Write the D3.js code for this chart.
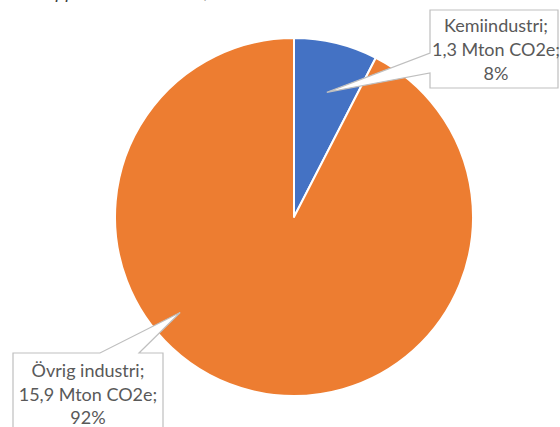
<!DOCTYPE html>
<html><head><meta charset="utf-8">
<script src="https://cdn.jsdelivr.net/npm/d3@7"></script>
<style>html,body{margin:0;padding:0;background:#fff;}svg{display:block;}</style>
</head><body>
<svg id="chart" width="560" height="427"></svg>
<script>
// ---- data ----
const categories = ["Kemiindustri", "Övrig industri"];
const values = [1.3, 15.9];               // Mton CO2e
const percentLabels = ["8%", "92%"];
const valueLabels = ["1,3 Mton CO2e;", "15,9 Mton CO2e;"];
const colors = ["#4472C4", "#ED7D31"];

// ---- layout ----
const W = 560, H = 427;
const cx = 294, cy = 217, R = 179;
const svg = d3.select("#chart");
const FONT = "Lato, 'Liberation Sans', sans-serif";

// cut-off title fragment at the top
const tg = svg.append("g").attr("font-family", "'Liberation Sans', sans-serif")
  .attr("font-style", "italic").attr("font-size", 18).attr("fill", "#404040");
tg.append("text").attr("x", 76).attr("y", -2.5).attr("text-anchor", "end").text("Växthusgasutsläpp");
tg.append("text").attr("x", 209).attr("y", -2.5).attr("text-anchor", "end").text("inom industrin,");

const pie = d3.pie().sort(null).value(d => d)(values);
const arc = d3.arc().innerRadius(0).outerRadius(R);
const g = svg.append("g").attr("transform", `translate(${cx},${cy})`);
g.selectAll("path.slice").data(pie).join("path")
  .attr("class", "slice")
  .attr("d", arc)
  .attr("fill", (d, i) => colors[i])
  .attr("stroke", "#fff").attr("stroke-width", 2).attr("stroke-linejoin", "round");

// ---- callout labels ----
const polar = (ang, rr) => [cx + rr * Math.sin(ang), cy - rr * Math.cos(ang)];
const callouts = [
  { box: [430, 10, 558, 88], tipAngle: (pie[0].startAngle + pie[0].endAngle) / 2 + 0.02, tipR: 0.72 * R,
    wedge: "left", w0: 53, w1: 73, tx: 496, ty: [32, 56, 80] },
  { box: [13, 353, 163, 440], tipAngle: 230 * Math.PI / 180, tipR: 0.83 * R,
    wedge: "top", w0: 100, w1: 139, tx: 88, ty: [377, 401, 424] }
];

const fs = 18;
callouts.forEach((c, i) => {
  const [x0, y0, x1, y1] = c.box;
  const [tx, ty] = polar(c.tipAngle, c.tipR);
  let p;
  if (c.wedge === "left") {
    p = `M${x0},${y0}H${x1}V${y1}H${x0}V${c.w1}L${tx},${ty}L${x0},${c.w0}Z`;
  } else {
    p = `M${x0},${y0}H${c.w0}L${tx},${ty}L${c.w1},${y0}H${x1}V${y1}H${x0}Z`;
  }
  svg.append("path").attr("d", p).attr("fill", "#fff")
    .attr("stroke", "#BFBFBF").attr("stroke-width", 1.2).attr("stroke-linejoin", "miter");
  const lines = [categories[i] + ";", valueLabels[i], percentLabels[i]];
  const t = svg.append("g").attr("font-family", FONT).attr("font-size", fs)
    .attr("fill", "#595959").attr("text-anchor", "middle");
  lines.forEach((s, k) => t.append("text").attr("x", c.tx).attr("y", c.ty[k]).text(s));
});
</script>
</body></html>
